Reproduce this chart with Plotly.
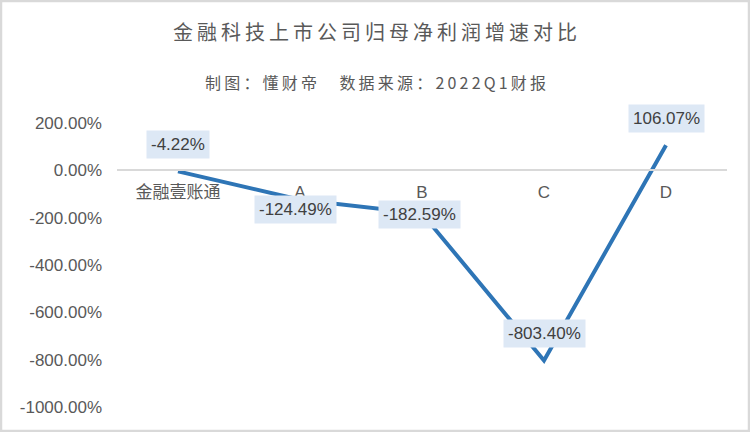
import plotly.graph_objects as go

# data
companies = ['金融壹账通', 'A', 'B', 'C', 'D']
growth = [-4.22, -124.49, -182.59, -803.40, 106.07]
y_ticks = [200, 0, -200, -400, -600, -800, -1000]
y_tick_text = [f'{v:.2f}%' for v in y_ticks]

title_text = '金融科技上市公司归母净利润增速对比'
subtitle_text = '制图：懂财帝　数据来源：2022Q1财报'

# label placement (pixels relative to each point)
label_shift = [(0, 27), (-5, -10), (-3, -1), (0, 27), (0, 27)]

cjk = 'Noto Sans CJK SC'
latin = 'Liberation Sans, Noto Sans CJK SC'


def spaced(s):
    # loose letter spacing like the original chart
    return '\u2009'.join(s)


fig = go.Figure()

fig.add_trace(go.Scatter(
    x=companies,
    y=growth,
    mode='lines',
    line=dict(color='#2E75B6', width=4),
    hoverinfo='skip',
    showlegend=False
))

annotations = []
for name, val, (dx, dy) in zip(companies, growth, label_shift):
    annotations.append(dict(
        x=name, y=val, xref='x', yref='y',
        text=f'{val:.2f}%',
        showarrow=False,
        xshift=dx, yshift=dy,
        bgcolor='#DDE8F5',
        borderpad=4,
        font=dict(family=latin, size=17, color='#404040')
    ))

annotations.append(dict(
    x=(375 - 117) / 610, y=1.0, xref='paper', yref='paper',
    xanchor='center', yanchor='middle',
    yshift=41,
    text=spaced(subtitle_text), showarrow=False,
    font=dict(family=cjk, size=16, color='#595959')
))

fig.update_layout(
    width=750, height=432,
    margin=dict(l=117, r=23, t=123, b=25),
    paper_bgcolor='white',
    plot_bgcolor='white',
    title=dict(
        text=spaced(title_text),
        x=(375 - 117) / 610, xref='paper', xanchor='center',
        y=1 - 33 / 432, yanchor='middle',
        font=dict(family=cjk, size=20, color='#595959')
    ),
    xaxis=dict(
        type='category',
        anchor='free',
        position=1000 / 1200,
        showline=True,
        linecolor='#D9D9D9',
        linewidth=2,
        showgrid=False,
        ticks='',
        ticklabelstandoff=6,
        tickfont=dict(family=latin, size=17, color='#595959'),
        range=[-0.5, 4.5],
        fixedrange=True
    ),
    yaxis=dict(
        range=[-1000, 200],
        tickvals=y_ticks,
        ticktext=y_tick_text,
        showgrid=False,
        zeroline=False,
        showline=False,
        ticklabelstandoff=14,
        tickfont=dict(family=latin, size=17, color='#595959'),
        fixedrange=True
    ),
    annotations=annotations,
    shapes=[dict(
        type='rect', xref='paper', yref='paper',
        x0=(1 - 117) / 610, x1=(749 - 117) / 610,
        y0=(407 - 431) / 284, y1=(407 - 1) / 284,
        line=dict(color='#D9D9D9', width=2.5),
        fillcolor='rgba(0,0,0,0)',
        layer='below'
    )]
)

fig.write_html('out.html', config={'displayModeBar': False},
               post_script="document.body.style.margin='0';")
